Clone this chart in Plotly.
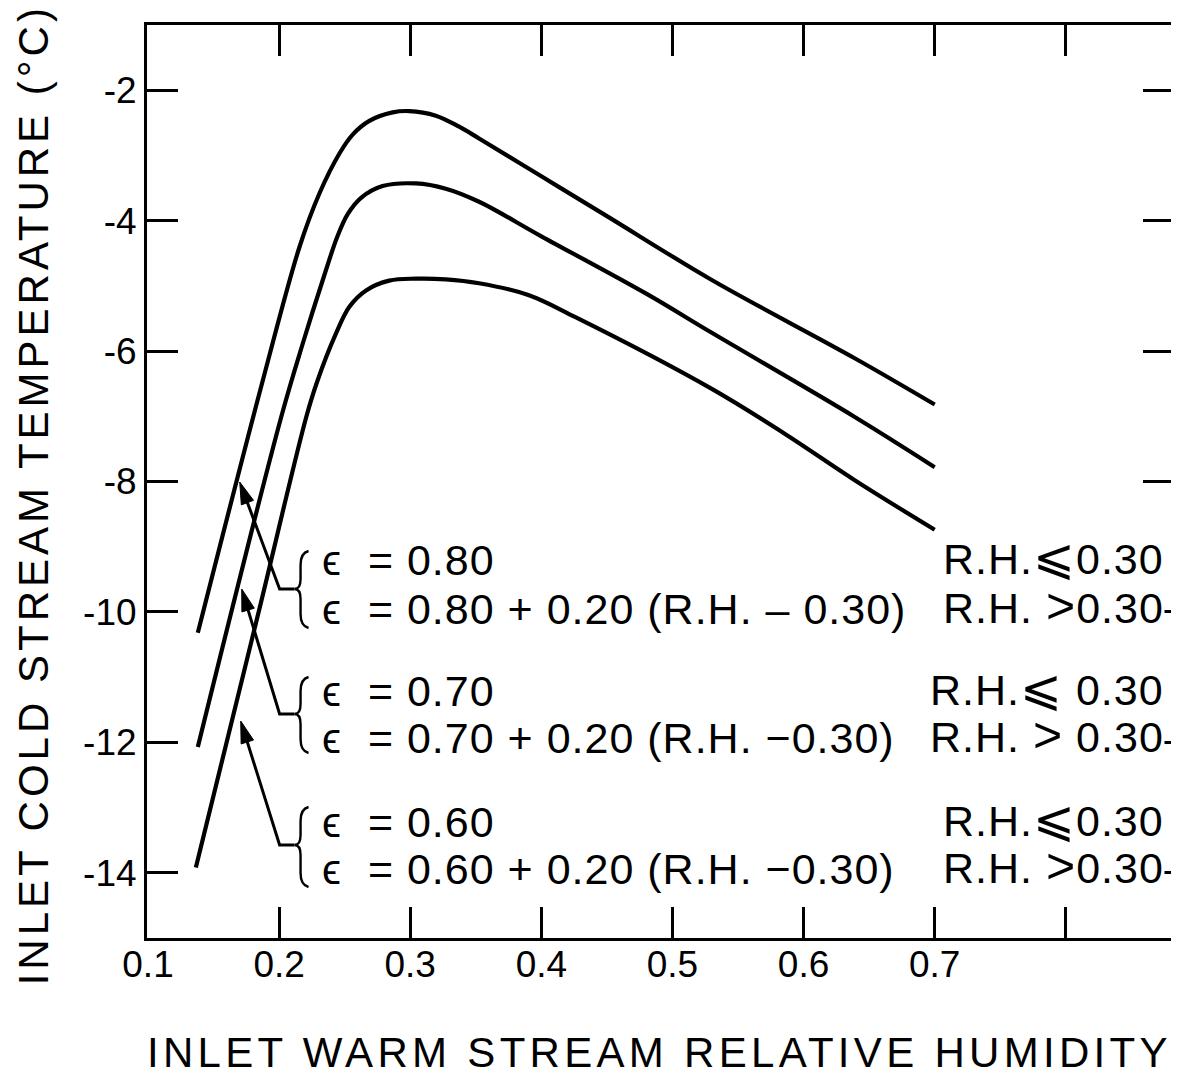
import math
import plotly.graph_objects as go

# ---- data ----
rh_080 = [0.138, 0.1877, 0.2156, 0.2308, 0.246, 0.2561, 0.2688, 0.2866, 0.2992, 0.3195, 0.3373, 0.3525,
          0.400, 0.450, 0.530, 0.639, 0.700]
t_080 = [-10.32, -6.44, -4.40, -3.58, -2.97, -2.68, -2.47, -2.34, -2.32, -2.39, -2.56, -2.74,
         -3.32, -3.93, -4.91, -6.11, -6.82]
rh_070 = [0.138, 0.2016, 0.2181, 0.2333, 0.2445, 0.2523, 0.2625, 0.2789, 0.3043, 0.3271,
          0.3525, 0.400, 0.480, 0.530, 0.639, 0.700]
t_070 = [-12.07, -7.01, -5.88, -4.91, -4.24, -3.90, -3.65, -3.47, -3.43, -3.51,
         -3.71, -4.24, -5.12, -5.72, -7.01, -7.78]
rh_060 = [0.1365, 0.185, 0.2207, 0.229, 0.2434, 0.2536, 0.2663, 0.284, 0.3043, 0.327, 0.3525,
          0.390, 0.426, 0.530, 0.585, 0.639, 0.700]
t_060 = [-13.92, -9.95, -7.01, -6.47, -5.73, -5.32, -5.07, -4.92, -4.89, -4.90, -4.96,
         -5.14, -5.48, -6.58, -7.26, -7.98, -8.74]

x_tickvals = [0.1, 0.2, 0.3, 0.4, 0.5, 0.6, 0.7, 0.8]
x_ticktext = ["0.1", "0.2", "0.3", "0.4", "0.5", "0.6", "0.7", ""]
y_tickvals = [-14, -12, -10, -8, -6, -4, -2]
y_ticktext = ["-14", "-12", "-10", "-8", "-6", "-4", "-2"]

labels_left = [
    ("ϵ  = 0.80", "ϵ  = 0.80 + 0.20 (R.H. – 0.30)"),
    ("ϵ  = 0.70", "ϵ  = 0.70 + 0.20 (R.H. −0.30)"),
    ("ϵ  = 0.60", "ϵ  = 0.60 + 0.20 (R.H. −0.30)"),
]
labels_right = [
    (("R.H.", "⩽", "0.30"), ("R.H. ", ">", "0.30")),
    (("R.H.", "⩽", " 0.30"), ("R.H. ", ">", " 0.30")),
    (("R.H.", "⩽", "0.30"), ("R.H. ", ">", "0.30")),
]
x_title = "INLET WARM STREAM RELATIVE HUMIDITY"
y_title = "INLET COLD STREAM TEMPERATURE (°C)"

FONT = "Liberation Sans, Arial, Helvetica, sans-serif"

# page body has an 8px margin; size the figure so the plot box lands where the reference has it
OFF = 8
W, H = 1179 - OFF, 1077 - OFF
PL, PT, PW, PH = 147, 25, 1030, 913          # plot box on screen
ML, MT = PL - OFF, PT - OFF
MR = W - (ML + PW)
MB = H - (MT + PH)
XMIN, YMIN, YMAX = 0.1, -15.0, -1.0
PXPER = 1315.0
XMAX = XMIN + PW / PXPER


def X(px):
    return XMIN + (px - (PL + 1)) / PXPER


def Y(py):
    return YMAX - (py - PT) * (YMAX - YMIN) / PH


fig = go.Figure()
for xs, ys in [(rh_080, t_080), (rh_070, t_070), (rh_060, t_060)]:
    fig.add_trace(go.Scatter(x=xs, y=ys, mode="lines",
                             line=dict(color="black", width=4.2, shape="spline", smoothing=1.0),
                             showlegend=False, hoverinfo="skip"))

annotations = []
shapes = []
groups = [
    dict(head=(240, 482), corner=(280, 589), top=551, bot=628, lines=(560, 609)),
    dict(head=(242, 589), corner=(280, 714), top=677, bot=753, lines=(691, 738)),
    dict(head=(241, 721), corner=(280, 845), top=807, bot=887, lines=(822, 869)),
]
right_second, right_first = [], []
for g, (l1, l2), (r1, r2) in zip(groups, labels_left, labels_right):
    hx, hy = g["head"]
    cx, cy = g["corner"]
    dx, dy = hx - cx, hy - cy
    ln = math.hypot(dx, dy)
    ux, uy = dx / ln, dy / ln
    nx, ny = -uy, ux
    hl, hw = 22, 6.5
    bx, by = hx - ux * hl, hy - uy * hl
    shapes.append(dict(type="path", xref="x", yref="y",
                       path=f"M {X(bx + ux*2)},{Y(by + uy*2)} L {X(cx)},{Y(cy)} L {X(295)},{Y(cy)}",
                       line=dict(color="black", width=3)))
    shapes.append(dict(type="path", xref="x", yref="y",
                       path=(f"M {X(hx)},{Y(hy)} L {X(bx + nx*hw)},{Y(by + ny*hw)} "
                             f"L {X(bx - nx*hw)},{Y(by - ny*hw)} Z"),
                       fillcolor="black", line=dict(color="black", width=1)))
    t, b = g["top"], g["bot"]
    xc, xm, xe = 295, 301, 309
    path = (f"M {X(xe)},{Y(t)} Q {X(xm)},{Y(t+2)} {X(xm)},{Y(t+14)} "
            f"L {X(xm)},{Y(cy-10)} Q {X(xm)},{Y(cy)} {X(xc)},{Y(cy)} "
            f"Q {X(xm)},{Y(cy)} {X(xm)},{Y(cy+10)} "
            f"L {X(xm)},{Y(b-14)} Q {X(xm)},{Y(b-2)} {X(xe)},{Y(b)}")
    shapes.append(dict(type="path", xref="x", yref="y", path=path,
                       line=dict(color="black", width=2.4)))
    for txt, ly in [(l1, g["lines"][0]), (l2, g["lines"][1])]:
        annotations.append(dict(x=X(321), y=Y(ly), xref="x", yref="y",
                                text=f'<span style="letter-spacing:1px">{txt}</span>',
                                showarrow=False, xanchor="left", yanchor="middle",
                                font=dict(family=FONT, size=43, color="black")))
    for (a, sym, c), ly, dest, bg in [(r1, g["lines"][0], right_first, "rgba(0,0,0,0)"),
                                      (r2, g["lines"][1], right_second, "white")]:
        txt = (f'<span style="letter-spacing:1px">{a}'
               f'<span style="font-size:50px">{sym}</span>{c}</span>')
        dest.append(dict(x=X(1168), y=Y(ly - 3), xref="x", yref="y", text=txt,
                         showarrow=False, xanchor="right", yanchor="middle",
                         bgcolor=bg, borderpad=0,
                         font=dict(family=FONT, size=43, color="black")))
annotations += right_second + right_first

# axis titles
annotations.append(dict(x=(661 - PL) / PW, y=-(1052 - (PT + PH)) / PH,
                        xref="paper", yref="paper", showarrow=False,
                        text=f'<span style="letter-spacing:4.3px">{x_title}</span>',
                        xanchor="center", yanchor="middle",
                        font=dict(family=FONT, size=42, color="black")))
annotations.append(dict(x=(33 - PL) / PW, y=1 - (495 - PT) / PH,
                        xref="paper", yref="paper", showarrow=False, textangle=-90,
                        text=f'<span style="letter-spacing:4px">{y_title}</span>',
                        xanchor="center", yanchor="middle",
                        font=dict(family=FONT, size=42, color="black")))

fig.update_layout(
    width=W, height=H,
    margin=dict(l=ML, r=MR, t=MT, b=MB, pad=0),
    paper_bgcolor="white", plot_bgcolor="white",
    font=dict(family=FONT, color="black"),
    annotations=annotations, shapes=shapes,
    xaxis=dict(range=[XMIN - 1 / PXPER, XMAX - 1 / PXPER], tickvals=x_tickvals, ticktext=x_ticktext,
               ticks="inside", ticklen=31, tickwidth=2.6, tickcolor="black",
               showline=True, linewidth=3, linecolor="black", mirror="ticks",
               showgrid=False, zeroline=False, ticklabelstandoff=-8,
               tickfont=dict(family=FONT, size=37, color="black")),
    yaxis=dict(range=[YMIN, YMAX], tickvals=y_tickvals, ticktext=y_ticktext,
               ticks="inside", ticklen=31, tickwidth=2.6, tickcolor="black",
               showline=True, linewidth=3, linecolor="black", mirror="ticks",
               showgrid=False, zeroline=False,
               tickfont=dict(family=FONT, size=37, color="black")),
)

fig.write_html("out.html")
